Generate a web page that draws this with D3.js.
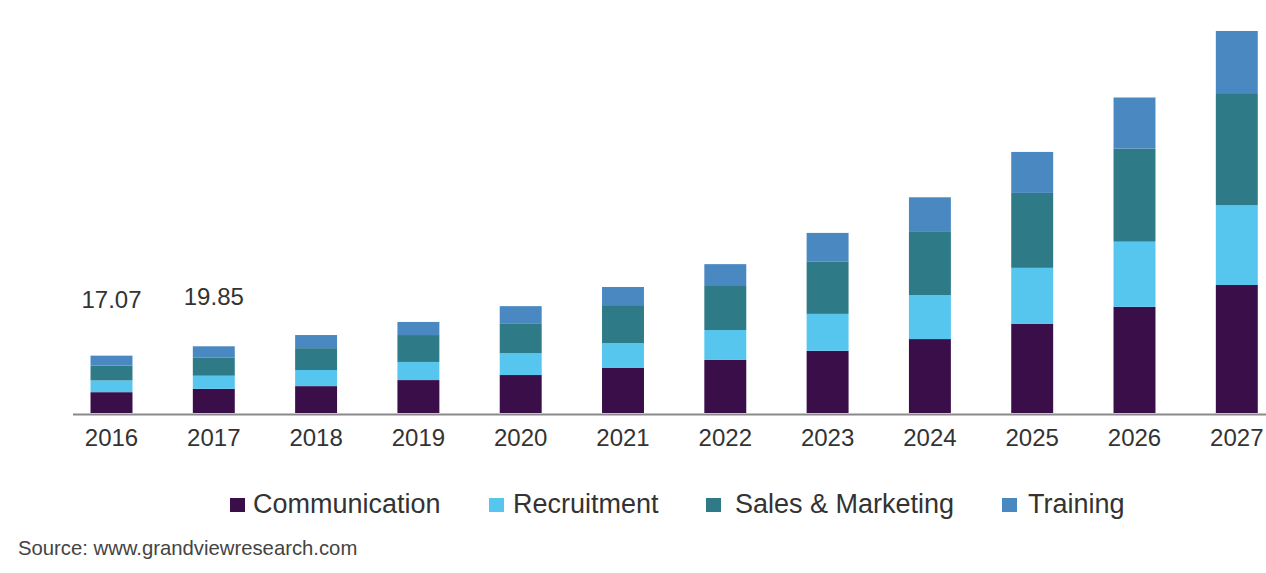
<!DOCTYPE html>
<html>
<head>
<meta charset="utf-8">
<script src="https://cdn.jsdelivr.net/npm/d3@7"></script>
<style>
  html, body { margin: 0; padding: 0; background: #fff; }
  svg { display: block; font-family: "Liberation Sans", Arial, sans-serif; }
</style>
</head>
<body>
<svg id="chart" width="1266" height="573"></svg>
<script>
const years = ["2016","2017","2018","2019","2020","2021","2022","2023","2024","2025","2026","2027"];
const seriesNames = ["Communication", "Recruitment", "Sales & Marketing", "Training"];
const communication = [6.2, 7.2, 8.0, 9.8, 11.3, 13.4, 15.8, 18.5, 22.0, 26.5, 31.6, 38.1];
const recruitment   = [3.5, 3.9, 4.8, 5.4, 6.5, 7.4, 8.9, 11.0, 13.1, 16.7, 19.4, 23.8];
const salesMarketing= [4.4, 5.45, 6.5, 8.0, 8.9, 11.3, 13.1, 15.5, 19.0, 22.3, 27.7, 33.3];
const training      = [2.97, 3.3, 3.9, 3.9, 5.1, 5.4, 6.5, 8.6, 10.1, 12.2, 15.2, 18.5];
const annotYears = ["2016", "2017"];
const annotLabels = ["17.07", "19.85"];
const colors = ["#3a0e48", "#56c6ef", "#2e7a87", "#4a88c2"];

const svg = d3.select("#chart");

const table = years.map((yr, i) => ({
  year: yr,
  "Communication": communication[i],
  "Recruitment": recruitment[i],
  "Sales & Marketing": salesMarketing[i],
  "Training": training[i]
}));

const step = 102.3;
const r0 = 60.35;
const x = d3.scaleBand()
  .domain(years)
  .range([r0, r0 + years.length * step])
  .paddingInner(0.59)
  .paddingOuter(0.295);

const baseY = 413;
const y = d3.scaleLinear().domain([0, 100]).range([baseY, baseY - 336]);

const color = d3.scaleOrdinal().domain(seriesNames).range(colors);

const stacked = d3.stack().keys(seriesNames)(table);

svg.append("g")
  .selectAll("g")
  .data(stacked)
  .join("g")
  .attr("fill", d => color(d.key))
  .selectAll("rect")
  .data(d => d)
  .join("rect")
  .attr("x", d => x(d.data.year))
  .attr("width", x.bandwidth())
  .attr("y", d => y(d[1]))
  .attr("height", d => y(d[0]) - y(d[1]));

// x axis
const xAxis = svg.append("g")
  .attr("transform", `translate(0,${baseY + 1})`)
  .call(d3.axisBottom(x).tickSize(0).tickPadding(15));
xAxis.select(".domain")
  .attr("d", `M73,0.5H1266`)
  .attr("stroke", "#8a8a8a")
  .attr("stroke-width", 2);
xAxis.selectAll("text")
  .attr("font-size", "24px")
  .attr("fill", "#333")
  .attr("font-family", "Liberation Sans, Arial, sans-serif");

// annotations
svg.append("g")
  .selectAll("text")
  .data(annotYears)
  .join("text")
  .attr("x", d => x(d) + x.bandwidth() / 2)
  .attr("y", (d, i) => i === 0 ? 308 : 305)
  .attr("text-anchor", "middle")
  .attr("font-size", "24px")
  .attr("fill", "#333")
  .text((d, i) => annotLabels[i]);

// legend
const legendX = [230, 489, 706, 1002];
const legendTextOffset = [23, 24, 29, 26];
const leg = svg.append("g");
seriesNames.forEach((name, i) => {
  leg.append("rect")
    .attr("x", legendX[i])
    .attr("y", 498)
    .attr("width", 15)
    .attr("height", 14)
    .attr("fill", color(name));
  leg.append("text")
    .attr("x", legendX[i] + legendTextOffset[i])
    .attr("y", 513)
    .attr("font-size", "27px")
    .attr("fill", "#333")
    .text(name);
});

// source
svg.append("text")
  .attr("x", 18)
  .attr("y", 555)
  .attr("font-size", "20.3px")
  .attr("fill", "#444")
  .text("Source: www.grandviewresearch.com");
</script>
</body>
</html>
